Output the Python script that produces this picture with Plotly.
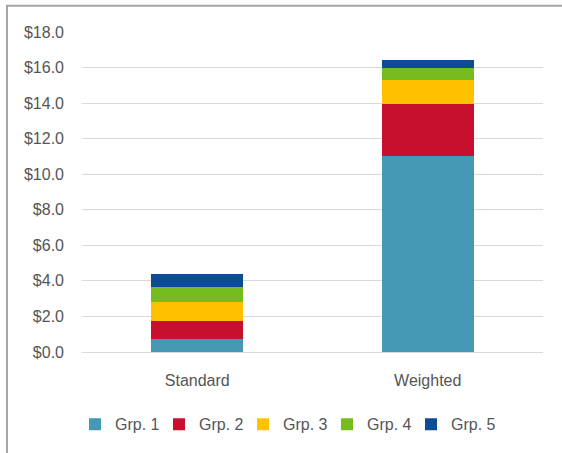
import plotly.graph_objects as go

# Stacked cost by group for each method
categories = ["Standard", "Weighted"]
groups = ["Grp. 1", "Grp. 2", "Grp. 3", "Grp. 4", "Grp. 5"]
values = {
    "Grp. 1": [0.75, 11.05],
    "Grp. 2": [1.00, 2.90],
    "Grp. 3": [1.05, 1.35],
    "Grp. 4": [0.85, 0.70],
    "Grp. 5": [0.75, 0.40],
}
colors = ["#4599B4", "#C8102E", "#FFC000", "#77BC1F", "#0B4C94"]
y_ticks = [0, 2, 4, 6, 8, 10, 12, 14, 16, 18]
y_tick_labels = [f"${v:.1f}" for v in y_ticks]

W, H = 562, 453
L, R, T, B = 82, 19, 32, 98
pw, ph = W - L - R, H - T - B

fig = go.Figure()
for g, c in zip(groups, colors):
    fig.add_trace(go.Bar(x=categories, y=values[g], name=g, marker_color=c,
                         marker_line_width=0))

font = dict(family="Liberation Sans, Arial, sans-serif", size=16, color="#555555")

fig.update_layout(
    width=W, height=H,
    margin=dict(l=L, r=R, t=T, b=B),
    barmode="stack", bargap=0.6,
    plot_bgcolor="white", paper_bgcolor="white",
    font=font,
    showlegend=True,
    legend=dict(orientation="h", x=(285 - L) / pw, xanchor="center",
                y=(H - B - 428) / ph, yanchor="middle",
                traceorder="normal", font=font,
                entrywidth=39, entrywidthmode="pixels"),
    xaxis=dict(showgrid=False, showline=False, ticks="",
               ticklabelstandoff=17),
    yaxis=dict(range=[0, 18], tickvals=y_ticks, ticktext=y_tick_labels,
               showgrid=True, gridcolor="#D9D9D9", gridwidth=1,
               zeroline=True, zerolinecolor="#D9D9D9", zerolinewidth=1,
               showline=False, ticks="", ticklabelstandoff=17),
    shapes=[dict(type="rect", xref="paper", yref="paper",
                 x0=(7 - L) / pw, x1=1.2,
                 y0=-0.5, y1=(H - B - 5.5) / ph,
                 line=dict(color="#A6A6A6", width=2), layer="below")],
)

fig.write_html("out.html")
